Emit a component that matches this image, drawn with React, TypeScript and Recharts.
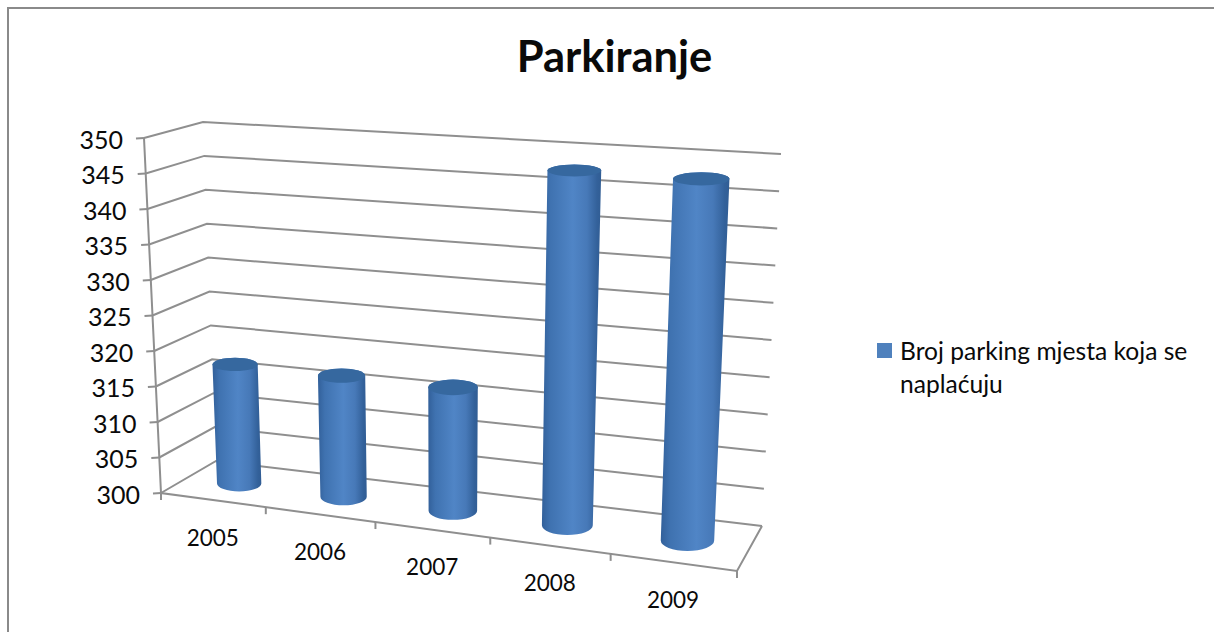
import React from "react";
import { BarChart, Bar, XAxis, YAxis, CartesianGrid, Legend, Customized } from "recharts";

const title = "Parkiranje";
const seriesName = "Broj parking mjesta koja se naplaćuju";
const years = ["2005", "2006", "2007", "2008", "2009"];
const counts = [317, 317, 317, 348, 348];
const yTicks = [300, 305, 310, 315, 320, 325, 330, 335, 340, 345, 350];

const data = years.map((year, i) => ({ year, value: counts[i] }));

const W = 1214;
const H = 632;
const FONT = "Lato, 'Open Sans', sans-serif";
const LINE = "#8f8f8f";
const TEXT = "#0a0a0a";
const PLOT = { left: 161, top: 138, width: 576, height: 355 };
const Y_AXIS_W = 60;
const X_AXIS_H = 30;

type Pt = { x: number; y: number };
// corners of the 3D box
const FBL = { x: 161, y: 493 };
const FBR = { x: 737, y: 571 };
const FTL = { x: 144, y: 138 };
const FTR = { x: 754, y: 182 };
const BBL = { x: 216, y: 461 };
const BBR = { x: 762, y: 526 };
const BTL = { x: 203, y: 122 };
const BTR = { x: 781, y: 154 };

const mix = (a: Pt, b: Pt, t: number): Pt => ({ x: a.x + (b.x - a.x) * t, y: a.y + (b.y - a.y) * t });
const warp = (u: number) => u / (u + 1.124 * (1 - u));

function project(u: number, v: number, d: number): Pt {
  const f = warp(u);
  const front = mix(mix(FBL, FBR, f), mix(FTL, FTR, f), v);
  const back = mix(mix(BBL, BBR, f), mix(BTL, BTR, f), v);
  return mix(front, back, d);
}
const toU = (x: number) => (x - PLOT.left) / PLOT.width;
const toV = (y: number) => 1 - (y - PLOT.top) / PLOT.height;
const poly = (pts: Pt[]) => pts.map((p, i) => `${i ? "L" : "M"}${p.x.toFixed(1)},${p.y.toFixed(1)}`).join(" ");

function GridLine(props: any) {
  const v = toV(props.y1);
  return (
    <path
      key={props.key ?? props.y1}
      d={poly([project(0, v, 0), project(0, v, 1), project(1, v, 1)])}
      fill="none"
      stroke={LINE}
      strokeWidth={2}
    />
  );
}

function YTick(props: any) {
  const p = project(0, toV(props.y), 0);
  return (
    <g>
      <line x1={p.x - 8} y1={p.y + 0.5} x2={p.x} y2={p.y} stroke={LINE} strokeWidth={2} />
      <text x={p.x - 21} y={p.y + 4.5} textAnchor="end" dominantBaseline="middle" fontFamily={FONT} fontSize={25} fill={TEXT}>
        {props.payload.value}
      </text>
    </g>
  );
}

function XTick(props: any) {
  const band = PLOT.width / years.length;
  const u = toU(props.x);
  const a = project(toU(props.x - band / 2), 0, 0);
  const b = project(toU(props.x + band / 2), 0, 0);
  const c = project(u, 0, 0);
  return (
    <g>
      <line x1={a.x} y1={a.y} x2={a.x} y2={a.y + 7} stroke={LINE} strokeWidth={2} />
      {props.index === years.length - 1 && <line x1={b.x} y1={b.y} x2={b.x} y2={b.y + 7} stroke={LINE} strokeWidth={2} />}
      <text x={c.x} y={c.y + 40} textAnchor="middle" dominantBaseline="middle" fontFamily={FONT} fontSize={22.5} fill={TEXT}>
        {props.payload.value}
      </text>
    </g>
  );
}

function Frame() {
  return (
    <g>
      <path d={`M8,${H} L8,8 L${W},8`} fill="none" stroke="#8a8a8a" strokeWidth={2} />
      <text x={614.5} y={72} textAnchor="middle" fontFamily={FONT} fontWeight={700} fontSize={43.5} fill={TEXT}>
        {title}
      </text>
      <path d={poly([project(0, 1, 0), project(0, 0, 0), project(1, 0, 0), project(1, 0, 1)])} fill="none" stroke={LINE} strokeWidth={2} />
    </g>
  );
}

function Cylinder(props: any) {
  const { x, y, width, height, index } = props;
  const uL = toU(x);
  const uR = toU(x + width);
  const uC = toU(x + width / 2);
  const vT = toV(y);
  const vB = toV(y + height);
  const id = `cyl-${index}`;
  const end = (v: number) => {
    const c = project(uC, v, 0.5);
    const hw = (project(uR, v, 0.5).x - project(uL, v, 0.5).x) / 2;
    const ry = 0.24 * Math.abs(project(uC, v, 0).y - project(uC, v, 1).y);
    return { c, hw, ry };
  };
  const t = end(vT);
  const b = end(vB);
  const side =
    `M${t.c.x - t.hw},${t.c.y} L${b.c.x - b.hw},${b.c.y} ` +
    `A${b.hw},${b.ry} 0 0 0 ${b.c.x + b.hw},${b.c.y} ` +
    `L${t.c.x + t.hw},${t.c.y} A${t.hw},${t.ry} 0 0 0 ${t.c.x - t.hw},${t.c.y} Z`;
  return (
    <g>
      <defs>
        <linearGradient id={id} x1="0" y1="0" x2="1" y2="0">
          <stop offset="0" stopColor="#32609a" />
          <stop offset="0.14" stopColor="#3f72b0" />
          <stop offset="0.52" stopColor="#5085c6" />
          <stop offset="0.76" stopColor="#4779b8" />
          <stop offset="0.93" stopColor="#33619a" />
          <stop offset="1" stopColor="#315d94" />
        </linearGradient>
      </defs>
      <path d={side} fill={`url(#${id})`} />
      <ellipse cx={t.c.x} cy={t.c.y} rx={t.hw} ry={t.ry} fill="#36689f" />
    </g>
  );
}

function LegendBox(props: any) {
  const item = props.payload?.[0];
  return (
    <div style={{ position: "relative", paddingLeft: 23, fontFamily: FONT, fontSize: 24.6, lineHeight: "33px", color: TEXT }}>
      <span style={{ position: "absolute", left: 0, top: 9, width: 15, height: 15, background: "#4f81bd" }} />
      {item?.value}
    </div>
  );
}

export default function App() {
  return (
    <div style={{ position: "absolute", left: 0, top: 0, width: W, height: H, background: "#fff" }}>
      <BarChart
        width={W}
        height={H}
        data={data}
        barCategoryGap="28.5%"
        margin={{
          left: PLOT.left - Y_AXIS_W,
          top: PLOT.top,
          right: W - PLOT.left - PLOT.width,
          bottom: H - PLOT.top - PLOT.height - X_AXIS_H,
        }}
      >
        <Customized component={Frame} />
        <CartesianGrid vertical={false} horizontal={GridLine as any} />
        <XAxis dataKey="year" height={X_AXIS_H} axisLine={false} tickLine={false} interval={0} tick={XTick as any} />
        <YAxis
          width={Y_AXIS_W}
          type="number"
          domain={[300, 350]}
          ticks={yTicks}
          interval={0}
          axisLine={false}
          tickLine={false}
          tick={YTick as any}
        />
        <Bar dataKey="value" name={seriesName} fill="#4f81bd" isAnimationActive={false} shape={Cylinder as any} />
        <Legend
          layout="horizontal"
          verticalAlign="middle"
          content={LegendBox as any}
          wrapperStyle={{ position: "absolute", left: 877, top: 333.5, width: 320, bottom: "auto" }}
        />
      </BarChart>
    </div>
  );
}
